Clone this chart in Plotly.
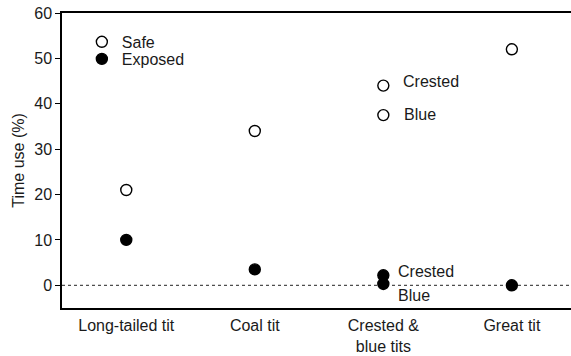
import plotly.graph_objects as go

categories = ["Long-tailed tit", "Coal tit", "Crested &<br>blue tits", "Great tit"]

# Safe habitat: one value per species; crested and blue tits plotted separately
safe_x = [0, 1, 2, 2, 3]
safe_y = [21, 34, 44, 37.5, 52]
# Exposed habitat
exposed_x = [0, 1, 2, 2, 3]
exposed_y = [10, 3.5, 2.2, 0.3, 0]

# Species labels beside the crested/blue points
label_text = ["Crested", "Blue", "Crested", "Blue"]
label_y = [44.8, 37.7, 3.1, -2.2]
label_shift = [18, 19, 13, 13]

font = dict(family="Liberation Sans, Arial, sans-serif", size=16, color="#1a1a1a")

fig = go.Figure()
fig.add_trace(go.Scatter(
    x=safe_x, y=safe_y, mode="markers", name="Safe", legend="legend",
    marker=dict(symbol="circle", size=11, color="white",
                line=dict(color="black", width=1.4)),
))
fig.add_trace(go.Scatter(
    x=exposed_x, y=exposed_y, mode="markers", name="Exposed", legend="legend2",
    marker=dict(symbol="circle", size=11, color="black",
                line=dict(color="black", width=1.4)),
))

for txt, yv, sh in zip(label_text, label_y, label_shift):
    fig.add_annotation(x=2, y=yv, text=txt, showarrow=False,
                       xanchor="left", xshift=sh, font=font)

# Zero reference line
fig.add_shape(type="line", xref="paper", x0=0, x1=1, yref="y", y0=0, y1=0,
              line=dict(color="#222222", width=1, dash="dot"), layer="below")

legend_common = dict(xanchor="left", yanchor="middle", bgcolor="rgba(0,0,0,0)",
                     font=font, itemwidth=30, borderwidth=0)

fig.update_layout(
    width=571, height=356,
    margin=dict(l=62, r=0, t=13, b=48),
    paper_bgcolor="white", plot_bgcolor="white",
    font=font,
    showlegend=True,
    legend=dict(x=0.039, y=0.902, **legend_common),
    legend2=dict(x=0.039, y=0.844, **legend_common),
    xaxis=dict(
        range=[-0.5, 3.46], tickmode="array", tickvals=[0, 1, 2, 3],
        ticktext=categories, showgrid=False, zeroline=False,
        showline=True, linecolor="black", linewidth=1.5, mirror=True,
        ticks="", tickfont=font, ticklabelstandoff=2,
    ),
    yaxis=dict(
        range=[-5, 60], tickvals=[0, 10, 20, 30, 40, 50, 60],
        showgrid=False, zeroline=False, showline=True, linecolor="black",
        linewidth=1.5, ticks="outside", ticklen=5, tickcolor="black",
        tickfont=font, title=dict(text="Time use (%)", font=font, standoff=6),
    ),
)

fig.write_html("out.html")
